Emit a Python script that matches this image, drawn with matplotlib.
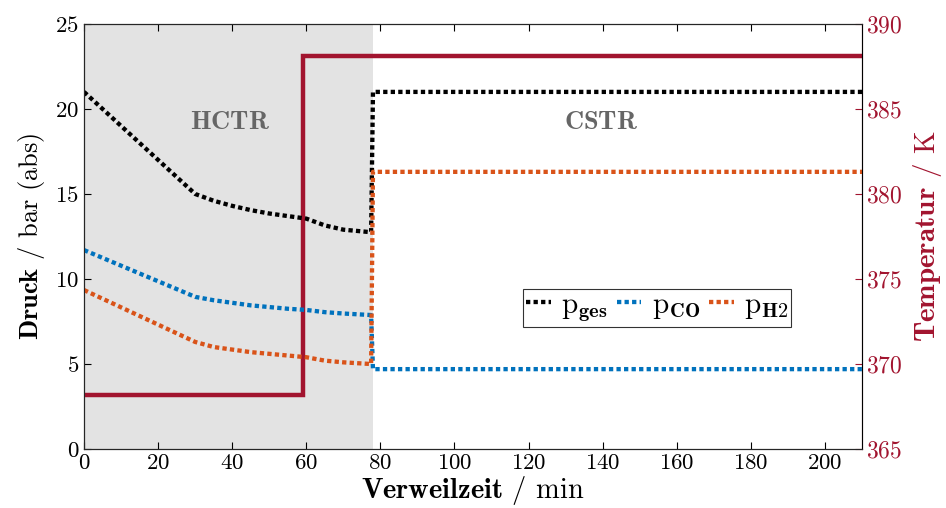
import matplotlib
matplotlib.use("Agg")
import matplotlib.pyplot as plt
import numpy as np

plt.rcParams['font.family'] = 'serif'
plt.rcParams['font.serif'] = ['cmr10']
plt.rcParams['mathtext.fontset'] = 'cm'
plt.rcParams['axes.formatter.use_mathtext'] = True

# residence time [min] and partial pressures [bar]
t = [0, 30, 35, 40, 45, 50, 55, 60, 65, 70, 77.5, 78, 210]
p_ges = [21.0, 15.0, 14.6, 14.3, 14.05, 13.85, 13.7, 13.55, 13.15, 12.9, 12.75, 21.0, 21.0]
p_co = [11.7, 8.95, 8.75, 8.6, 8.45, 8.35, 8.25, 8.18, 8.05, 7.97, 7.88, 4.7, 4.7]
p_h2 = [9.35, 6.3, 6.0, 5.85, 5.7, 5.6, 5.5, 5.4, 5.2, 5.1, 5.0, 16.3, 16.3]

# reactor temperature [K]
t_temp = [0, 59, 59, 210]
temp = [368.2, 368.2, 388.1, 388.1]

hctr_end = 78
red = '#A2142F'
blue = '#0072BD'
orange = '#D95319'

fig = plt.figure(figsize=(9.46, 5.08), dpi=100)
ax = fig.add_axes([0.0888, 0.116, 0.8224, 0.837])
ax2 = ax.twinx()

# temperature axis sits behind the pressure axis, so the shading lives there
ax2.set_zorder(0)
ax.set_zorder(1)
ax.patch.set_visible(False)
ax2.axvspan(0, hctr_end, color='#E3E3E3', lw=0, zorder=0)
ax2.plot(t_temp, temp, color=red, lw=3.2, solid_joinstyle='miter', zorder=3)

ls = (0, (1, 0.75))
kw = dict(lw=3.1, linestyle=ls, dash_capstyle='butt')
l1, = ax.plot(t, p_ges, color='black', label=r'$\mathrm{p}_{\mathbf{ges}}$', **kw)
l2, = ax.plot(t, p_co, color=blue, label=r'$\mathrm{p}_{\mathbf{CO}}$', **kw)
l3, = ax.plot(t, p_h2, color=orange, label=r'$\mathrm{p}_{\mathbf{H2}}$', **kw)

ax.set_xlim(0, 210)
ax.set_ylim(0, 25)
ax2.set_ylim(365, 390)
ax.set_xticks(np.arange(0, 201, 20))
ax.set_yticks(np.arange(0, 26, 5))
ax2.set_yticks(np.arange(365, 391, 5))

ax.tick_params(axis='both', direction='in', labelsize=16.5, length=5, top=True, width=0.8)
ax.tick_params(axis='x', pad=3)
ax2.tick_params(axis='y', direction='in', labelsize=17, length=5, colors=red, width=0.8, pad=3)
ax2.spines['right'].set_color('#8E3A4B')
for s in ['left', 'top', 'bottom']:
    ax.spines[s].set_color('#262626')

ax.set_xlabel(r'$\mathbf{Verweilzeit}$ / min', fontsize=20.5, labelpad=1)
ax.set_ylabel(r'$\mathbf{Druck}$ / bar (abs)', fontsize=19, labelpad=6)
ax2.set_ylabel(r'$\mathbf{Temperatur}$ / K', fontsize=21, color=red, labelpad=6)

ax.text(39.5, 19.2, r'$\mathbf{HCTR}$', fontsize=19, color='#666666', ha='center', va='center')
ax.text(139.5, 19.2, r'$\mathbf{CSTR}$', fontsize=19, color='#666666', ha='center', va='center')

leg = ax.legend(handles=[l1, l2, l3], ncol=3, loc='center', bbox_to_anchor=(0.737, 0.332),
                fontsize=21, frameon=True, fancybox=False, edgecolor='black',
                handlelength=0.85, handletextpad=0.35, columnspacing=0.3,
                borderpad=0.1, borderaxespad=0)
leg.get_frame().set_linewidth(0.8)

fig.savefig('out.png', dpi=100)
